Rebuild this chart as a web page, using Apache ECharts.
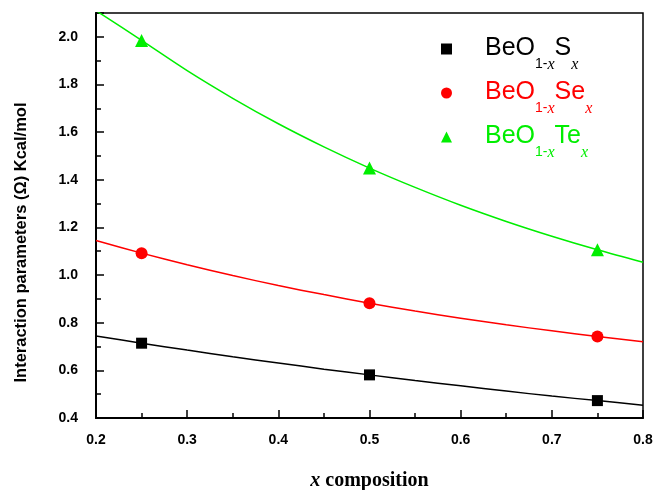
<!DOCTYPE html>
<html>
<head>
<meta charset="utf-8">
<title>Interaction parameters</title>
<script src="https://cdn.jsdelivr.net/npm/echarts@6/dist/echarts.min.js"></script>
<style>
  html, body { margin: 0; padding: 0; background: #fff; }
  #chart { width: 659px; height: 490px; }
</style>
</head>
<body>
<div id="chart"></div>
<script>
// measured compositions
var xPoints = [0.25, 0.5, 0.75];
var sPoints = [0.714, 0.581, 0.473];
var sePoints = [1.092, 0.882, 0.742];
var tePoints = [1.985, 1.449, 1.106];

// fitted curves, every 0.05
var xFit = [0.2, 0.25, 0.3, 0.35, 0.4, 0.45, 0.5, 0.55, 0.6, 0.65, 0.7, 0.75, 0.8];
var sFit = [0.744, 0.714, 0.685, 0.657, 0.631, 0.605, 0.581, 0.557, 0.535, 0.513, 0.492, 0.473, 0.454];
var seFit = [1.145, 1.092, 1.043, 0.998, 0.956, 0.918, 0.882, 0.849, 0.819, 0.791, 0.766, 0.742, 0.720];
var teFit = [2.11, 1.985, 1.858, 1.742, 1.635, 1.538, 1.449, 1.368, 1.293, 1.225, 1.163, 1.106, 1.054];

var yTicks = [0.4, 0.6, 0.8, 1.0, 1.2, 1.4, 1.6, 1.8, 2.0];

var colS = "#000000";
var colSe = "#ff0000";
var colTe = "#00ee00";

function pairs(xs, ys) {
  return xs.map(function (x, i) { return [x, ys[i]]; });
}

var chart = echarts.init(document.getElementById("chart"));

var labelFont = "Liberation Sans, Arial, sans-serif";
var serif = "Liberation Serif, Times New Roman, serif";

chart.setOption({
  animation: false,
  backgroundColor: "#fff",
  grid: {
    left: 96,
    right: 16,
    top: 13,
    bottom: 72,
    containLabel: false,
    outerBoundsMode: "none",
    show: true,
    borderColor: "#000",
    borderWidth: 1.5
  },
  legend: {
    orient: "vertical",
    left: 436,
    top: 31,
    itemWidth: 11,
    itemHeight: 11,
    itemGap: 7,
    data: [
      { name: "S", icon: "rect", textStyle: { color: colS } },
      { name: "Se", icon: "circle", textStyle: { color: colSe } },
      { name: "Te", icon: "triangle", textStyle: { color: colTe } }
    ],
    formatter: function (name) {
      return "{m|BeO}{n|1-}{i|x}{m|" + name + "}{i|x}";
    },
    textStyle: {
      padding: [0, 0, 0, 28],
      rich: {
        m: { fontFamily: labelFont, fontSize: 25, lineHeight: 26, verticalAlign: "top" },
        n: { fontFamily: labelFont, fontSize: 14, lineHeight: 14, padding: [21, 0, 0, 0], verticalAlign: "top" },
        i: { fontFamily: serif, fontStyle: "italic", fontSize: 16, lineHeight: 14, padding: [21, 0, 0, 0], verticalAlign: "top" }
      }
    }
  },
  xAxis: {
    type: "value",
    min: 0.2,
    max: 0.8,
    interval: 0.1,
    name: "{i|x} composition",
    nameLocation: "middle",
    nameGap: 53,
    nameTextStyle: {
      fontFamily: serif,
      fontWeight: "bold",
      fontSize: 20,
      color: "#000",
      rich: {
        i: { fontFamily: serif, fontStyle: "italic", fontWeight: "bold", fontSize: 20, color: "#000" }
      }
    },
    axisLine: { onZero: false, lineStyle: { color: "#000", width: 2 } },
    axisTick: { inside: true, length: 8, lineStyle: { color: "#000", width: 1.5 } },
    minorTick: { show: true, splitNumber: 2, length: 5, lineStyle: { color: "#000", width: 1.5 } },
    splitLine: { show: false },
    axisLabel: {
      margin: 15,
      fontFamily: labelFont,
      fontWeight: "bold",
      fontSize: 14,
      color: "#000",
      formatter: function (v) { return v.toFixed(1); }
    }
  },
  yAxis: {
    type: "value",
    min: 0.4,
    max: 2.1,
    interval: 0.2,
    name: "Interaction parameters (Ω) Kcal/mol",
    nameLocation: "middle",
    nameRotate: 90,
    nameGap: 66,
    nameTextStyle: {
      fontFamily: labelFont,
      fontWeight: "bold",
      fontSize: 16.5,
      color: "#000",
      padding: [0, 54, 0, 0]
    },
    axisLine: { onZero: false, lineStyle: { color: "#000", width: 2 } },
    axisTick: { inside: true, length: 8, lineStyle: { color: "#000", width: 1.5 } },
    minorTick: { show: true, splitNumber: 2, length: 5, lineStyle: { color: "#000", width: 1.5 } },
    splitLine: { show: false },
    axisLabel: {
      margin: 18,
      showMaxLabel: false,
      fontFamily: labelFont,
      fontWeight: "bold",
      fontSize: 14,
      color: "#000",
      formatter: function (v) {
        return yTicks.indexOf(Math.round(v * 10) / 10) >= 0 ? v.toFixed(1) : "";
      }
    }
  },
  series: [
    {
      name: "S fit", type: "line", smooth: 0.3, showSymbol: false, clip: true,
      data: pairs(xFit, sFit), lineStyle: { color: colS, width: 1.5 }, z: 2
    },
    {
      name: "Se fit", type: "line", smooth: 0.3, showSymbol: false, clip: true,
      data: pairs(xFit, seFit), lineStyle: { color: colSe, width: 1.5 }, z: 2
    },
    {
      name: "Te fit", type: "line", smooth: 0.3, showSymbol: false, clip: true,
      data: pairs(xFit, teFit), lineStyle: { color: colTe, width: 1.5 }, z: 2
    },
    {
      name: "S", type: "scatter", symbol: "rect", symbolSize: 11,
      data: pairs(xPoints, sPoints), itemStyle: { color: colS, opacity: 1 }, z: 3
    },
    {
      name: "Se", type: "scatter", symbol: "circle", symbolSize: 12,
      data: pairs(xPoints, sePoints), itemStyle: { color: colSe, opacity: 1 }, z: 3
    },
    {
      name: "Te", type: "scatter", symbol: "triangle", symbolSize: 13,
      data: pairs(xPoints, tePoints), itemStyle: { color: colTe, opacity: 1 }, z: 3
    }
  ]
});
</script>
</body>
</html>
